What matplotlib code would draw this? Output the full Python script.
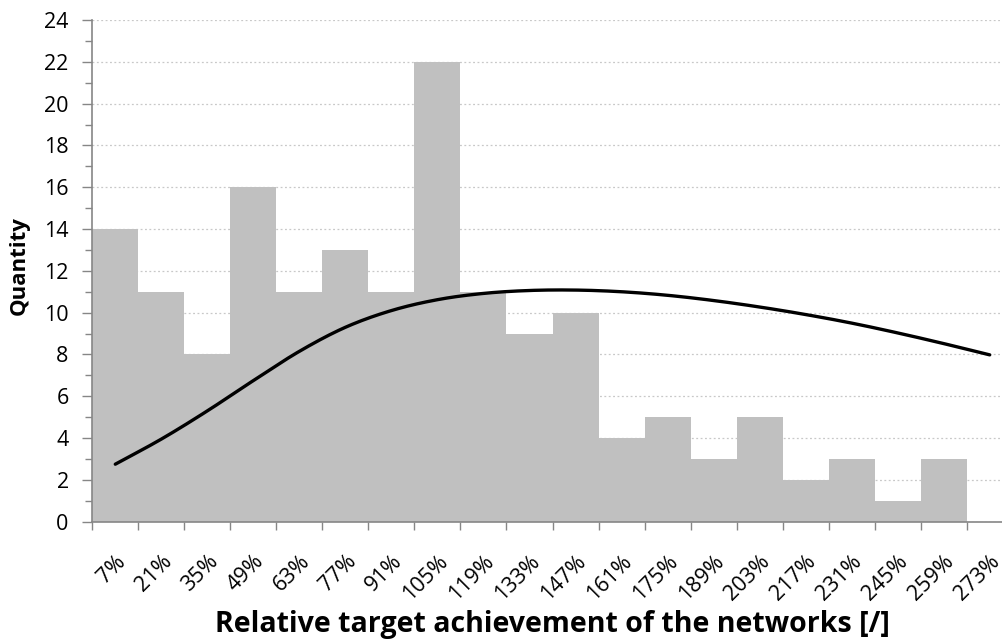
import numpy as np
import matplotlib.pyplot as plt
from matplotlib.ticker import MultipleLocator, FixedLocator

plt.rcParams['font.family'] = ['Open Sans', 'DejaVu Sans']

# histogram classes and counts
classes = ["7%", "21%", "35%", "49%", "63%", "77%", "91%", "105%", "119%", "133%",
           "147%", "161%", "175%", "189%", "203%", "217%", "231%", "245%", "259%", "273%"]
counts = [14, 11, 8, 16, 11, 13, 11, 22, 11, 9, 10, 4, 5, 3, 5, 2, 3, 1, 3, 0]
# fitted distribution curve, one value per class
fit = [2.75, 3.95, 5.30, 6.75, 8.15, 9.30, 10.10, 10.62, 10.92, 11.06,
       11.08, 11.00, 10.83, 10.58, 10.27, 9.91, 9.50, 9.03, 8.52, 7.98]


def smooth(xs, ys, n=20):
    # catmull-rom through the points, like a smoothed spreadsheet line
    xs = np.asarray(xs, float)
    ys = np.asarray(ys, float)
    px = np.concatenate([[2 * xs[0] - xs[1]], xs, [2 * xs[-1] - xs[-2]]])
    py = np.concatenate([[2 * ys[0] - ys[1]], ys, [2 * ys[-1] - ys[-2]]])
    outx, outy = [], []
    t = np.linspace(0, 1, n, endpoint=False)
    for i in range(1, len(px) - 2):
        for p, o in ((px, outx), (py, outy)):
            p0, p1, p2, p3 = p[i - 1], p[i], p[i + 1], p[i + 2]
            o.extend(0.5 * (2 * p1 + (-p0 + p2) * t
                            + (2 * p0 - 5 * p1 + 4 * p2 - p3) * t ** 2
                            + (-p0 + 3 * p1 - 3 * p2 + p3) * t ** 3))
    outx.append(xs[-1])
    outy.append(ys[-1])
    return np.array(outx), np.array(outy)


fig = plt.figure(figsize=(10.03, 6.39), dpi=100)
ax = fig.add_axes([0.0920, 0.1836, 0.9177, 0.7851])

x = np.arange(len(classes))
ax.bar(x, counts, width=1.0, color="#C0C0C0", zorder=2)
sx, sy = smooth(x, fit)
ax.plot(sx, sy, color="black", lw=2.4, solid_capstyle="round", zorder=3)

ax.set_xlim(-0.5, len(classes) - 0.5)
ax.set_ylim(0, 24)
ax.yaxis.set_major_locator(MultipleLocator(2))
ax.yaxis.set_minor_locator(MultipleLocator(1))
ax.grid(axis="y", which="major", color="#C8C8C8", linestyle=(0, (1.5, 2)), lw=0.9, zorder=0)

ax.set_xticks(x)
ax.set_xticklabels(classes, rotation=45, ha="right", va="top", rotation_mode="anchor")
ax.xaxis.set_minor_locator(FixedLocator(np.arange(-0.5, len(classes), 1.0)))
ax.tick_params(axis="x", which="major", length=0, pad=21, labelsize=15.5)
ax.tick_params(axis="x", which="minor", length=6, width=1, color="#868686")
ax.tick_params(axis="y", which="major", length=7, width=1, color="#868686", labelsize=15.5, pad=10)
ax.tick_params(axis="y", which="minor", length=5, width=1, color="#868686")

for s in ("top", "right"):
    ax.spines[s].set_visible(False)
for s in ("left", "bottom"):
    ax.spines[s].set_color("#868686")
    ax.spines[s].set_linewidth(1.2)

fig.text(0.019, 0.585, "Quantity", fontsize=16, fontweight="bold",
         rotation=90, ha="center", va="center")
fig.text(0.551, 0.011, "Relative target achievement of the networks [/]",
         fontsize=20.5, fontweight="bold", ha="center", va="baseline")

fig.savefig("out.png", dpi=100)
